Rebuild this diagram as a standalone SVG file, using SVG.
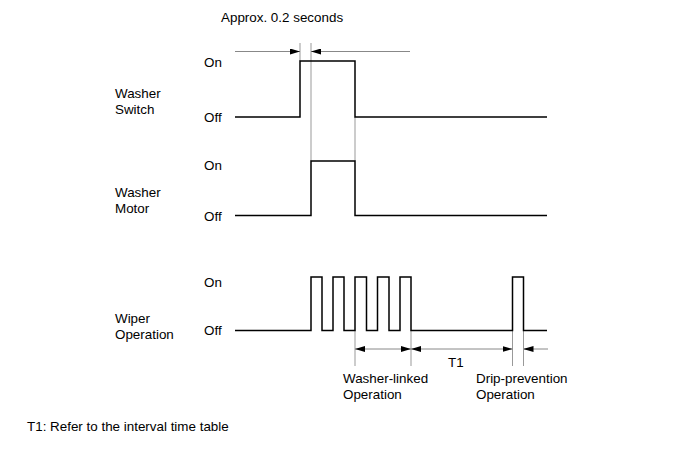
<svg xmlns="http://www.w3.org/2000/svg" width="690" height="465" viewBox="0 0 690 465">
<style>
text{font-family:"Liberation Sans",Arial,sans-serif;font-size:13.4px;fill:#000}
.sig{fill:none;stroke:#000;stroke-width:1.5}
.ext{fill:none;stroke:#999;stroke-width:1}
.dim{fill:none;stroke:#888;stroke-width:1}
</style>
<defs>
<marker id="ah" viewBox="0 0 10 6" refX="10" refY="3" markerWidth="10" markerHeight="6" markerUnits="userSpaceOnUse" orient="auto">
<path d="M0,0 L10,3 L0,6 Z" fill="#000"/>
</marker>
</defs>
<rect width="690" height="465" fill="#fff"/>
<g id="connectors">
<line class="ext" x1="300" y1="43" x2="300" y2="61"/>
<line class="ext" x1="311" y1="43" x2="311" y2="161"/>
<line class="ext" x1="355" y1="117" x2="355" y2="161"/>
<line class="dim" x1="235" y1="51.5" x2="300" y2="51.5" marker-end="url(#ah)"/>
<line class="dim" x1="410" y1="51.5" x2="311" y2="51.5" marker-end="url(#ah)"/>
<line class="ext" x1="355" y1="330" x2="355" y2="366"/>
<line class="ext" x1="411" y1="330" x2="411" y2="366"/>
<line class="ext" x1="512.5" y1="330" x2="512.5" y2="366"/>
<line class="ext" x1="523.5" y1="330" x2="523.5" y2="366"/>
<line class="dim" x1="383" y1="349" x2="355" y2="349" marker-end="url(#ah)"/>
<line class="dim" x1="383" y1="349" x2="411" y2="349" marker-end="url(#ah)"/>
<line class="dim" x1="461" y1="349" x2="411" y2="349" marker-end="url(#ah)"/>
<line class="dim" x1="461" y1="349" x2="512.5" y2="349" marker-end="url(#ah)"/>
<line class="dim" x1="548" y1="349" x2="523.5" y2="349" marker-end="url(#ah)"/>
</g>
<g id="title"><text x="221" y="22">Approx. 0.2 seconds</text></g>
<g id="washer-switch">
<text x="115" y="98">Washer</text>
<text x="115" y="114">Switch</text>
<text x="204" y="66.5">On</text>
<text x="204" y="121.5">Off</text>
<path class="sig" d="M235,117 H300 V61 H355 V117 H547"/>
</g>
<g id="washer-motor">
<text x="115" y="197">Washer</text>
<text x="115" y="213">Motor</text>
<text x="204" y="169.5">On</text>
<text x="204" y="220.5">Off</text>
<path class="sig" d="M235,215.5 H311 V161 H355 V215.5 H547"/>
</g>
<g id="wiper-operation">
<text x="115" y="323">Wiper</text>
<text x="115" y="339">Operation</text>
<text x="204" y="286.5">On</text>
<text x="204" y="334.5">Off</text>
<path class="sig" d="M235,330.5 H311 V277 H322 V330.5 H333 V277 H344 V330.5 H355 V277 H366.5 V330.5 H377.5 V277 H389 V330.5 H400 V277 H411 V330.5 H512.5 V277 H523.5 V330.5 H547"/>
</g>
<g id="labels">
<text x="448" y="367">T1</text>
<text x="343" y="383">Washer-linked</text>
<text x="343" y="399">Operation</text>
<text x="476" y="383">Drip-prevention</text>
<text x="476" y="399">Operation</text>
<text x="27" y="431">T1: Refer to the interval time table</text>
</g>
</svg>
